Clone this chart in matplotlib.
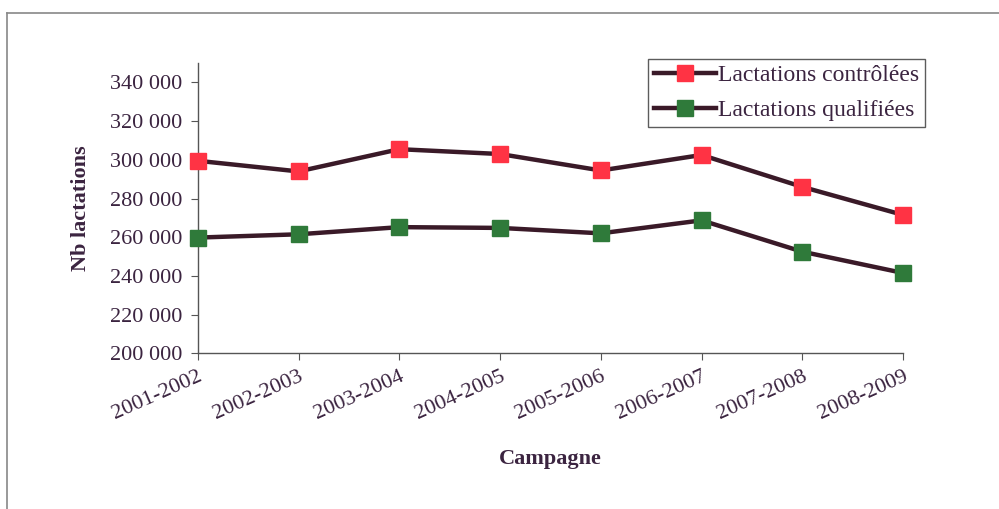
import matplotlib.pyplot as plt
from matplotlib.lines import Line2D

campagnes = ["2001-2002", "2002-2003", "2003-2004", "2004-2005",
             "2005-2006", "2006-2007", "2007-2008", "2008-2009"]
controlees = [299500, 294000, 305500, 303000, 294500, 302500, 286000, 271500]
qualifiees = [259800, 261500, 265200, 264800, 262000, 268700, 252500, 241500]

ticks_y = [200000, 220000, 240000, 260000, 280000, 300000, 320000, 340000]

texte = "#3b2440"
trait = "#3a1a28"

plt.rcParams['font.family'] = ['Liberation Serif', 'DejaVu Serif']

fig = plt.figure(figsize=(9.99, 5.09), dpi=100)
ax = fig.add_axes([0.198, 0.306, 0.706, 0.570])

x = range(len(campagnes))
ax.plot(x, controlees, color=trait, linewidth=3.2, marker="s", markersize=11, clip_on=False,
        markerfacecolor="#ff3344", markeredgecolor="#ff3344", label="Lactations contrôlées", zorder=3)
ax.plot(x, qualifiees, color=trait, linewidth=3.2, marker="s", markersize=11, clip_on=False,
        markerfacecolor="#2f7a3a", markeredgecolor="#2f7a3a", label="Lactations qualifiées", zorder=3)

ax.set_xlim(0, len(campagnes) - 1)
ax.set_ylim(200000, 350000)
ax.set_yticks(ticks_y)
ax.set_yticklabels([f"{v:,}".replace(",", " ") for v in ticks_y])
ax.set_xticks(list(x))
ax.set_xticklabels(campagnes, rotation=24, ha="right", rotation_mode="anchor")

for s in ["top", "right"]:
    ax.spines[s].set_visible(False)
for s in ["left", "bottom"]:
    ax.spines[s].set_color("#555555")
    ax.spines[s].set_linewidth(1)
ax.tick_params(axis="both", direction="out", length=5, color="#555555",
               labelcolor=texte, labelsize=16)
ax.tick_params(axis="x", pad=5)
ax.tick_params(axis="y", pad=6)

ax.set_ylabel("Nb lactations", fontsize=16, fontweight="bold", color=texte, labelpad=14)
ax.set_xlabel("Campagne", fontsize=16, fontweight="bold", color=texte, labelpad=18)

leg = ax.legend(loc="upper right", bbox_to_anchor=(925 / 999, 1 - 59 / 509),
                bbox_transform=fig.transFigure, fontsize=17, frameon=True,
                fancybox=False, edgecolor="#333333", handlelength=2.6,
                handletextpad=0.1, borderpad=0.25, labelspacing=0.55, borderaxespad=0)
leg.get_frame().set_linewidth(1)
for t in leg.get_texts():
    t.set_color(texte)

# cadre du scan (haut et gauche)
fig.add_artist(Line2D([7 / 999, 7 / 999], [0, 1 - 13 / 509], transform=fig.transFigure,
                      color="#888888", linewidth=1.2))
fig.add_artist(Line2D([7 / 999, 1], [1 - 13 / 509, 1 - 13 / 509], transform=fig.transFigure,
                      color="#888888", linewidth=1.2))

plt.savefig("out.png", dpi=100)
